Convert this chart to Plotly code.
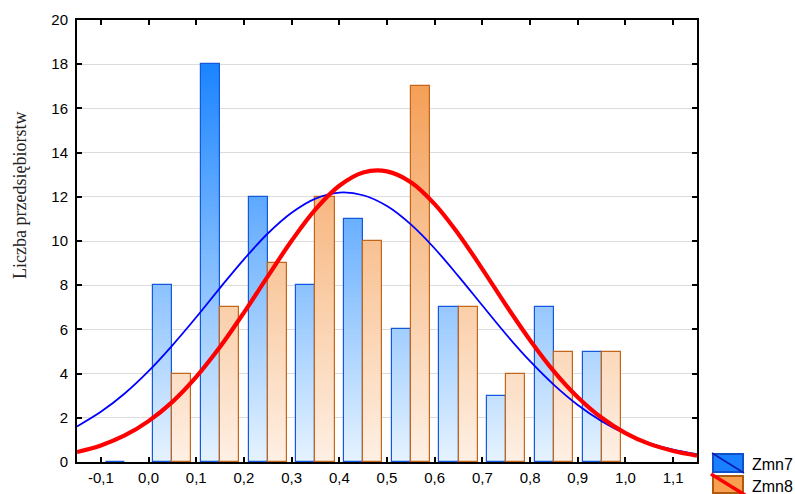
import plotly.graph_objects as go

# ---------------- data ----------------
bin_centers_7 = [-0.05, 0.05, 0.15, 0.25, 0.35, 0.45, 0.55, 0.65, 0.75, 0.85, 0.95]
counts_7 = [0, 8, 18, 12, 8, 11, 6, 7, 3, 7, 5]
bin_centers_8 = [0.05, 0.15, 0.25, 0.35, 0.45, 0.55, 0.65, 0.75, 0.85, 0.95]
counts_8 = [4, 7, 9, 12, 10, 17, 7, 4, 5, 5]

curve_x = [-0.15, -0.10, -0.05, 0.00, 0.05, 0.10, 0.15, 0.20, 0.25, 0.30, 0.35, 0.40, 0.45,
           0.50, 0.55, 0.60, 0.65, 0.70, 0.75, 0.80, 0.85, 0.90, 0.95, 1.00, 1.05, 1.10, 1.15]
curve_7 = [1.61, 2.27, 3.10, 4.11, 5.28, 6.55, 7.88, 9.17, 10.34, 11.28, 11.92, 12.19, 12.07,
           11.58, 10.75, 9.66, 8.40, 7.08, 5.77, 4.56, 3.49, 2.58, 1.85, 1.28, 0.86, 0.56, 0.35]
curve_8 = [0.45, 0.75, 1.20, 1.85, 2.72, 3.85, 5.21, 6.76, 8.40, 10.01, 11.43, 12.50, 13.10,
           13.15, 12.66, 11.67, 10.31, 8.73, 7.08, 5.51, 4.10, 2.93, 2.00, 1.31, 0.82, 0.50, 0.29]

x_tick_vals = [-0.1, 0.0, 0.1, 0.2, 0.3, 0.4, 0.5, 0.6, 0.7, 0.8, 0.9, 1.0, 1.1]
x_tick_labels = ["-0,1", "0,0", "0,1", "0,2", "0,3", "0,4", "0,5", "0,6", "0,7", "0,8", "0,9", "1,0", "1,1"]
y_tick_vals = [0, 2, 4, 6, 8, 10, 12, 14, 16, 18, 20]
series_names = ["Zmn7", "Zmn8"]
y_title = "Liczba przedsiębiorstw"

# ---------------- layout constants ----------------
W, H = 795, 494
ML, MR, MT, MB = 77, 98, 20, 32
PW, PH = W - ML - MR, H - MT - MB
BAR_W = 0.04
DY = 0.2


def px(x):
    return (x - ML) / PW


def py(y):
    return (H - MB - y) / PH


def lerp_color(c0, c1, t):
    t = max(0.0, min(1.0, t))
    r = round(c0[0] + (c1[0] - c0[0]) * t)
    g = round(c0[1] + (c1[1] - c0[1]) * t)
    b = round(c0[2] + (c1[2] - c0[2]) * t)
    return f"rgb({r},{g},{b})"


BLUE_BOT, BLUE_TOP = (230, 243, 255), (26, 132, 255)
OR_BOT, OR_TOP = (254, 240, 228), (244, 160, 88)


def gradient_slices(centers, counts, bot, top, ytop, offset):
    xs, ys, bases, cols = [], [], [], []
    for c, v in zip(centers, counts):
        lvl = 0.0
        while lvl < v - 1e-9:
            h = min(DY, v - lvl)
            xs.append(c)
            ys.append(h)
            bases.append(lvl)
            cols.append(lerp_color(bot, top, (lvl + h / 2) / ytop))
            lvl += DY
    return go.Bar(x=xs, y=ys, base=bases, width=BAR_W, offset=offset,
                  marker=dict(color=cols, line=dict(width=0)),
                  showlegend=False, hoverinfo="skip")


fig = go.Figure()
fig.add_trace(gradient_slices(bin_centers_7, counts_7, BLUE_BOT, BLUE_TOP, 18, -BAR_W))
fig.add_trace(gradient_slices(bin_centers_8, counts_8, OR_BOT, OR_TOP, 17, 0))

fig.add_trace(go.Bar(x=bin_centers_7, y=counts_7, width=BAR_W, offset=-BAR_W,
                     marker=dict(color="rgba(0,0,0,0)", line=dict(color="#1458dc", width=1.2)),
                     name=series_names[0], showlegend=False))
fig.add_trace(go.Bar(x=bin_centers_8, y=counts_8, width=BAR_W, offset=0,
                     marker=dict(color="rgba(0,0,0,0)", line=dict(color="#c4661a", width=1.2)),
                     name=series_names[1], showlegend=False))

fig.add_trace(go.Scatter(x=curve_x, y=curve_7, mode="lines", line=dict(color="#0000ff", width=1.8, shape="spline"),
                         showlegend=False, hoverinfo="skip"))
fig.add_trace(go.Scatter(x=curve_x, y=curve_8, mode="lines", line=dict(color="#ff0000", width=4.2, shape="spline"),
                         showlegend=False, hoverinfo="skip"))

axis_common = dict(showline=True, linecolor="black", linewidth=2, mirror="ticks",
                   ticks="inside", ticklen=5, tickwidth=1.5, tickcolor="black",
                   zeroline=False, automargin=False,
                   tickfont=dict(family="Liberation Sans, Arial", size=15, color="black"))

fig.update_xaxes(range=[-0.15, 1.15], tickvals=x_tick_vals, ticktext=x_tick_labels,
                 showgrid=False, ticklabelstandoff=1, **axis_common)
fig.update_yaxes(range=[0, 20], tickvals=y_tick_vals, showgrid=True, gridcolor="#dcdcdc",
                 gridwidth=1, ticklabelstandoff=4, **axis_common)

shapes = []
annotations = []
# custom legend
legend_items = [
    dict(y0=454, y1=472, fill="#1a80ff", border="#1050c8", diag="#0a1ab0", dw=1.5, ty=464, ext=1),
    dict(y0=476, y1=493, fill="#f8a050", border="#b05a10", diag="#ff0000", dw=3.5, ty=486, ext=2),
]
for name, it in zip(series_names, legend_items):
    shapes.append(dict(type="rect", xref="paper", yref="paper",
                       x0=px(713), x1=px(743), y0=py(it["y0"]), y1=py(it["y1"]),
                       fillcolor=it["fill"], line=dict(color=it["border"], width=2), layer="above"))
    shapes.append(dict(type="line", xref="paper", yref="paper",
                       x0=px(713 - it["ext"]), y0=py(it["y0"] - it["ext"]),
                       x1=px(743 + it["ext"]), y1=py(it["y1"] + it["ext"]),
                       line=dict(color=it["diag"], width=it["dw"]), layer="above"))
    annotations.append(dict(xref="paper", yref="paper", x=px(750), y=py(it["ty"]),
                            text=name, showarrow=False, xanchor="left", yanchor="middle",
                            font=dict(family="Liberation Sans, Arial", size=16, color="black")))

annotations.append(dict(xref="paper", yref="paper", x=px(20), y=py(196), text=y_title,
                        textangle=-90, showarrow=False, xanchor="center", yanchor="middle",
                        font=dict(family="Liberation Serif, Times New Roman", size=18, color="#222")))

fig.update_layout(width=W, height=H, margin=dict(l=ML, r=MR, t=MT, b=MB, autoexpand=False),
                  barmode="overlay", bargap=0, plot_bgcolor="white", paper_bgcolor="white",
                  shapes=shapes, annotations=annotations, showlegend=False)

fig.write_html("out.html")
